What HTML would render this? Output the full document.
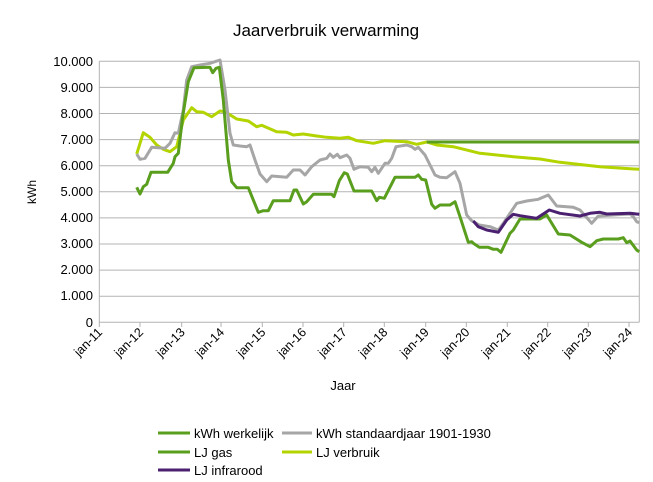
<!DOCTYPE html>
<html><head><meta charset="utf-8"><style>body{margin:0;background:#fff}svg{display:block}</style></head><body>
<svg width="653" height="482" viewBox="0 0 653 482" xmlns="http://www.w3.org/2000/svg" font-family="Liberation Sans, sans-serif">
<rect width="653" height="482" fill="#fff"/>
<text x="326" y="36" font-size="17" text-anchor="middle" fill="#000">Jaarverbruik verwarming</text>
<g stroke="#b3b3b3" stroke-width="1">
<line x1="99.3" y1="61.3" x2="639.3" y2="61.3"/><line x1="99.3" y1="87.4" x2="639.3" y2="87.4"/><line x1="99.3" y1="113.5" x2="639.3" y2="113.5"/><line x1="99.3" y1="139.6" x2="639.3" y2="139.6"/><line x1="99.3" y1="165.7" x2="639.3" y2="165.7"/><line x1="99.3" y1="191.8" x2="639.3" y2="191.8"/><line x1="99.3" y1="217.9" x2="639.3" y2="217.9"/><line x1="99.3" y1="244" x2="639.3" y2="244"/><line x1="99.3" y1="270.1" x2="639.3" y2="270.1"/><line x1="99.3" y1="296.2" x2="639.3" y2="296.2"/><line x1="99.3" y1="322.3" x2="639.3" y2="322.3"/>
<line x1="99.3" y1="61.3" x2="99.3" y2="327"/><line x1="639.3" y1="61.3" x2="639.3" y2="322.3"/>
<line x1="140" y1="322.3" x2="140" y2="327"/><line x1="181.7" y1="322.3" x2="181.7" y2="327"/><line x1="221" y1="322.3" x2="221" y2="327"/><line x1="262.3" y1="322.3" x2="262.3" y2="327"/><line x1="303" y1="322.3" x2="303" y2="327"/><line x1="343.7" y1="322.3" x2="343.7" y2="327"/><line x1="384.3" y1="322.3" x2="384.3" y2="327"/><line x1="425.7" y1="322.3" x2="425.7" y2="327"/><line x1="466.3" y1="322.3" x2="466.3" y2="327"/><line x1="507.3" y1="322.3" x2="507.3" y2="327"/><line x1="547.7" y1="322.3" x2="547.7" y2="327"/><line x1="588.3" y1="322.3" x2="588.3" y2="327"/><line x1="629" y1="322.3" x2="629" y2="327"/>
</g>
<g font-size="13" text-anchor="end" fill="#000">
<text x="93" y="66">10.000</text><text x="93" y="92">9.000</text><text x="93" y="118">8.000</text><text x="93" y="144">7.000</text><text x="93" y="170">6.000</text><text x="93" y="196">5.000</text><text x="93" y="222">4.000</text><text x="93" y="248">3.000</text><text x="93" y="274">2.000</text><text x="93" y="300">1.000</text><text x="93" y="327">0</text>
</g>
<g font-size="12.5" text-anchor="end" fill="#000">
<text transform="translate(103,333) rotate(-45)">jan-11</text>
<text transform="translate(144,333) rotate(-45)">jan-12</text>
<text transform="translate(185.7,333) rotate(-45)">jan-13</text>
<text transform="translate(225,333) rotate(-45)">jan-14</text>
<text transform="translate(266.3,333) rotate(-45)">jan-15</text>
<text transform="translate(307,333) rotate(-45)">jan-16</text>
<text transform="translate(347.7,333) rotate(-45)">jan-17</text>
<text transform="translate(388.3,333) rotate(-45)">jan-18</text>
<text transform="translate(429.7,333) rotate(-45)">jan-19</text>
<text transform="translate(470.3,333) rotate(-45)">jan-20</text>
<text transform="translate(511.3,333) rotate(-45)">jan-21</text>
<text transform="translate(551.7,333) rotate(-45)">jan-22</text>
<text transform="translate(592.3,333) rotate(-45)">jan-23</text>
<text transform="translate(633,333) rotate(-45)">jan-24</text>
</g>
<text x="343" y="390" font-size="13" text-anchor="middle">Jaar</text>
<text transform="translate(36,192) rotate(-90)" font-size="12" text-anchor="middle">kWh</text>
<g fill="none" stroke-width="3" stroke-linejoin="round">
<polyline stroke="#b4d400" points="136.7,154 143.3,132.7 150,137.3 156.7,145 163.3,149.3 170,151.7 176.7,146.7 183.3,120 191.7,107.7 196.7,111.7 203.3,112.3 211.7,116.7 220,111 225,111.7 236.7,119 248.3,121 256.7,126.7 261.7,125.3 276.7,131.7 286.7,132.3 293.3,135 303.3,134 316.7,136 326.7,137.3 340,138.3 348.3,137.3 356.7,140.7 373.3,143.3 385,140.7 406.7,141.7 416.7,144.3 426.7,142 436.7,145 453.3,146.7 480,153.3 513.3,156.7 540,159 560,162.3 600,166.7 639.3,169.3"/>
<polyline stroke="#a6a6a6" points="136.7,154 140,159.3 145,158.3 151.7,147.3 165,148.3 170,143.3 175,132.7 178.3,133.3 183.3,110 186.7,80 191.7,66.7 200,65 210,63.3 220,60 225,90 230,133.3 233.3,145 240,146 246.7,146.7 250,145 255,160 260,174 266.7,181.7 271.7,176 286.7,177.3 293.3,170 300,170 305,175 311.7,166.7 320,160 326.7,158.3 330,154 333.3,157.3 337.3,154.3 340,157.7 346.7,155 350,158.3 354,169.3 360,166.7 368.3,167.3 371.7,171.7 375,167.3 378.3,173.3 385,163.3 388.3,163.3 391.7,158.3 396,146.7 406.7,145 411.7,146.7 415,149.3 418.3,147.3 425,155 430,165 435,175 440,177.3 446.7,177.7 455,171.7 460,183.3 466.7,215 471.7,220.7 479.3,225 490,226.7 498.3,230 503.3,223.3 516.7,203.3 526.7,201 538.3,199.3 548.3,195 556.7,206 573.3,207.3 580,210 591.7,223.3 598.3,216 616.7,214.7 630,214 633.3,216.7 636.7,221.7 639.3,222.7"/>
<polyline stroke="#5a9e1e" points="136.7,187.3 140,194 143.3,186.7 146.7,184.3 151,172.3 167.7,172.3 173.3,163.3 175,156.7 178.3,153.3 182.7,116.7 188.3,81.7 194,67.7 210,67.3 212.7,72.7 216,68.3 219.3,67.3 223.3,100 228.3,160 231.7,181.7 236.7,187.7 248.3,187.7 253.3,200 258.3,212.3 263.3,210.7 268.3,210.7 273.3,200.7 290,200.7 294,190 296.7,190 303.3,204 306.7,201.7 313.3,194.3 331.7,194.3 334,196.7 339.3,180.7 344.3,172.7 347.3,174 354,191 371.7,191 376.7,200.7 379.3,197.3 384.3,198.3 395,177.3 415,177.3 418.3,175 421.7,179.3 425.7,180 431.7,204.3 435,208.3 440,205 450,205 455,201.7 460,216.7 468.3,242.3 471.7,241.7 473.3,243.3 479.3,247.3 488.3,247.3 493.3,249.3 497.3,249.3 501,252.3 510,233.3 513.3,230 520,219 540,219 546.7,215 558.3,234 570,235 581.7,242.3 590,246.7 596.7,240.7 603.3,239 618.3,239 623.3,237.7 626.7,242.7 630,241 636.7,250 639.3,251.7"/>
<polyline stroke="#5a9e1e" points="426.7,142 639.3,142"/>
<polyline stroke="#4b2070" points="473.3,221 478.3,226.7 486.7,230 498.3,232.3 506.7,220 513.3,214.3 520,215.7 536.7,218.3 549.3,210 560,213.3 580,216 590,213.3 600,212.3 606.7,214 630,213.3 639.3,214.3"/>
</g>
<g stroke-width="3">
<line x1="158" y1="433" x2="190" y2="433" stroke="#5a9e1e"/>
<line x1="282" y1="433" x2="312" y2="433" stroke="#a6a6a6"/>
<line x1="158" y1="452" x2="190" y2="452" stroke="#5a9e1e"/>
<line x1="282" y1="452" x2="312" y2="452" stroke="#b4d400"/>
<line x1="158" y1="470" x2="190" y2="470" stroke="#4b2070"/>
</g>
<g font-size="13" fill="#000">
<text x="194" y="438">kWh werkelijk</text>
<text x="316" y="438">kWh standaardjaar 1901-1930</text>
<text x="194" y="457">LJ gas</text>
<text x="316" y="457">LJ verbruik</text>
<text x="194" y="475">LJ infrarood</text>
</g>
</svg>
</body></html>
